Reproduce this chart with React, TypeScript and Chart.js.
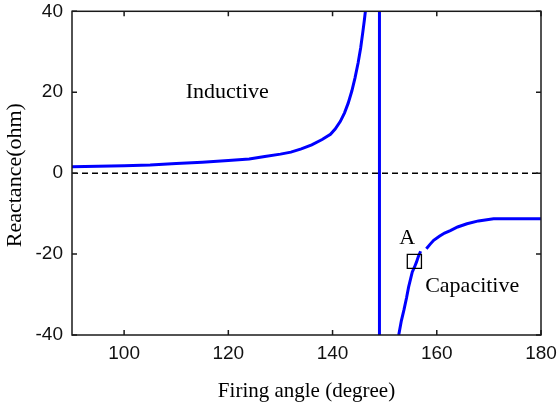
import React, { useEffect, useRef } from "react";
import { Chart, registerables } from "chart.js";

Chart.register(...registerables);

// ---- data ----
const inductiveAngle = [90, 95, 100, 105, 110, 115, 120, 124, 127, 130, 132, 134, 136, 138, 139.6, 140.5, 141.5, 142.3, 143.0, 143.7, 144.3, 144.9, 145.4, 145.8, 146.1, 146.3];
const inductiveX = [1.6, 1.7, 1.8, 2.0, 2.4, 2.7, 3.1, 3.5, 4.1, 4.7, 5.2, 6.0, 7.0, 8.3, 9.6, 10.9, 12.8, 14.9, 17.3, 20.3, 23.5, 27.2, 31.0, 34.8, 37.8, 40];

const jumpAngle = [149, 149];
const jumpX = [40, -40];

const capacitiveAngle = [152.7, 153.2, 153.7, 154.2, 154.6, 155.0, 155.3, 155.7, 156.1, 156.5, 156.9, 157.5, 158.0, 158.7, 159.4, 160.5, 161.5, 162.6, 164.0, 165.8, 168.0, 170.9, 175.0, 180.0];
const capacitiveX = [-40, -36.5, -33.8, -30.8, -28.1, -26.0, -24.4, -23.3, -22.0, -20.5, -19.3, null, -18.7, -17.6, -16.6, -15.6, -14.8, -14.2, -13.3, -12.5, -11.8, -11.3, -11.3, -11.3];

const pointAAngle = [155.7];
const pointAX = [-21.8];

const xTicks = [100, 120, 140, 160, 180];
const yTicks = [-40, -20, 0, 20, 40];

const xTitle = "Firing angle (degree)";
const yTitle = "Reactance(ohm)";

const labelTexts = ["Inductive", "Capacitive", "A"];
const labelAngles = [119.8, 166.8, 154.3];
const labelValues = [20.1, -27.9, -16.2];

const toPoints = (xs: number[], ys: (number | null)[]) => xs.map((x, i) => ({ x, y: ys[i] }));

const SERIF = '"Liberation Serif", "Times New Roman", serif';
const SANS = '"Liberation Sans", Arial, sans-serif';

const decorPlugin = {
  id: "decor",
  beforeDatasetsDraw(chart: any) {
    const { ctx, chartArea: a, scales } = chart;
    const y0 = scales.y.getPixelForValue(0);
    ctx.save();
    ctx.strokeStyle = "#000";
    ctx.lineWidth = 1.5;
    ctx.setLineDash([6, 4]);
    ctx.beginPath();
    ctx.moveTo(a.left, y0);
    ctx.lineTo(a.right, y0);
    ctx.stroke();
    ctx.restore();
  },
  afterDatasetsDraw(chart: any) {
    const { ctx, chartArea: a, scales } = chart;
    const xs = scales.x;
    const ys = scales.y;
    ctx.save();
    // frame
    ctx.strokeStyle = "#1a1a1a";
    ctx.lineWidth = 1.5;
    ctx.strokeRect(a.left, a.top, a.right - a.left, a.bottom - a.top);
    // inward ticks
    const tl = 5;
    ctx.beginPath();
    xTicks.forEach((v) => {
      const px = xs.getPixelForValue(v);
      ctx.moveTo(px, a.bottom);
      ctx.lineTo(px, a.bottom - tl);
      ctx.moveTo(px, a.top);
      ctx.lineTo(px, a.top + tl);
    });
    yTicks.forEach((v) => {
      const py = ys.getPixelForValue(v);
      ctx.moveTo(a.left, py);
      ctx.lineTo(a.left + tl, py);
      ctx.moveTo(a.right, py);
      ctx.lineTo(a.right - tl, py);
    });
    ctx.stroke();

    // annotations
    ctx.fillStyle = "#000";
    ctx.textAlign = "center";
    ctx.textBaseline = "middle";
    ctx.font = `22px ${SERIF}`;
    labelTexts.forEach((t, i) => {
      ctx.fillText(t, xs.getPixelForValue(labelAngles[i]), ys.getPixelForValue(labelValues[i]));
    });

    // axis titles
    ctx.font = `21px ${SERIF}`;
    ctx.fillText(xTitle, (a.left + a.right) / 2, 391);
    ctx.save();
    ctx.translate(15, (a.top + a.bottom) / 2 + 2);
    ctx.rotate(-Math.PI / 2);
    ctx.font = `22px ${SERIF}`;
    ctx.fillText(yTitle, 0, 0);
    ctx.restore();
    ctx.restore();
  },
};

export default function App() {
  const ref = useRef<HTMLCanvasElement | null>(null);
  useEffect(() => {
    if (!ref.current) return;
    const blue = "#0000ff";
    const chart = new Chart(ref.current, {
      type: "scatter",
      data: {
        datasets: [
          {
            label: "A",
            data: toPoints(pointAAngle, pointAX),
            showLine: false,
            pointStyle: "rect",
            pointRadius: 10,
            borderColor: "#000",
            borderWidth: 1.3,
            backgroundColor: "rgba(0,0,0,0)",
          },
          {
            label: "inductive",
            data: toPoints(inductiveAngle, inductiveX),
            showLine: true,
            borderColor: blue,
            borderWidth: 3,
            pointRadius: 0,
            tension: 0,
          },
          {
            label: "jump",
            data: toPoints(jumpAngle, jumpX),
            showLine: true,
            borderColor: blue,
            borderWidth: 3,
            pointRadius: 0,
          },
          {
            label: "capacitive",
            data: toPoints(capacitiveAngle, capacitiveX as any),
            showLine: true,
            spanGaps: false,
            borderColor: blue,
            borderWidth: 3,
            pointRadius: 0,
            tension: 0,
          },
        ],
      },
      options: {
        responsive: false,
        animation: false,
        events: [],
        layout: { padding: { top: 10, right: 16, left: 0, bottom: 0 } },
        plugins: { legend: { display: false }, tooltip: { enabled: false } },
        scales: {
          x: {
            type: "linear",
            min: 90,
            max: 180,
            grid: { display: false, drawTicks: false },
            border: { display: false },
            ticks: {
              padding: 7,
              color: "#111",
              font: { family: SANS, size: 19 },
              maxRotation: 0,
              callback: (v: any) => String(v),
            },
            afterBuildTicks: (s: any) => {
              s.ticks = xTicks.map((v) => ({ value: v }));
            },
            afterFit: (s: any) => {
              s.height = 73;
              s.paddingLeft = 0;
              s.paddingRight = 0;
            },
          },
          y: {
            type: "linear",
            min: -40,
            max: 40,
            grid: { display: false, drawTicks: false },
            border: { display: false },
            ticks: {
              padding: 9,
              color: "#111",
              font: { family: SANS, size: 19 },
              callback: (v: any) => String(v),
            },
            afterBuildTicks: (s: any) => {
              s.ticks = yTicks.map((v) => ({ value: v }));
            },
            afterFit: (s: any) => {
              s.width = 72;
              s.paddingTop = 0;
              s.paddingBottom = 0;
            },
          },
        },
      },
      plugins: [decorPlugin],
    } as any);
    return () => chart.destroy();
  }, []);
  return (
    <div style={{ position: "absolute", left: 0, top: 0, width: 557, height: 408, background: "#fff" }}>
      <canvas ref={ref} width={557} height={408} />
    </div>
  );
}
